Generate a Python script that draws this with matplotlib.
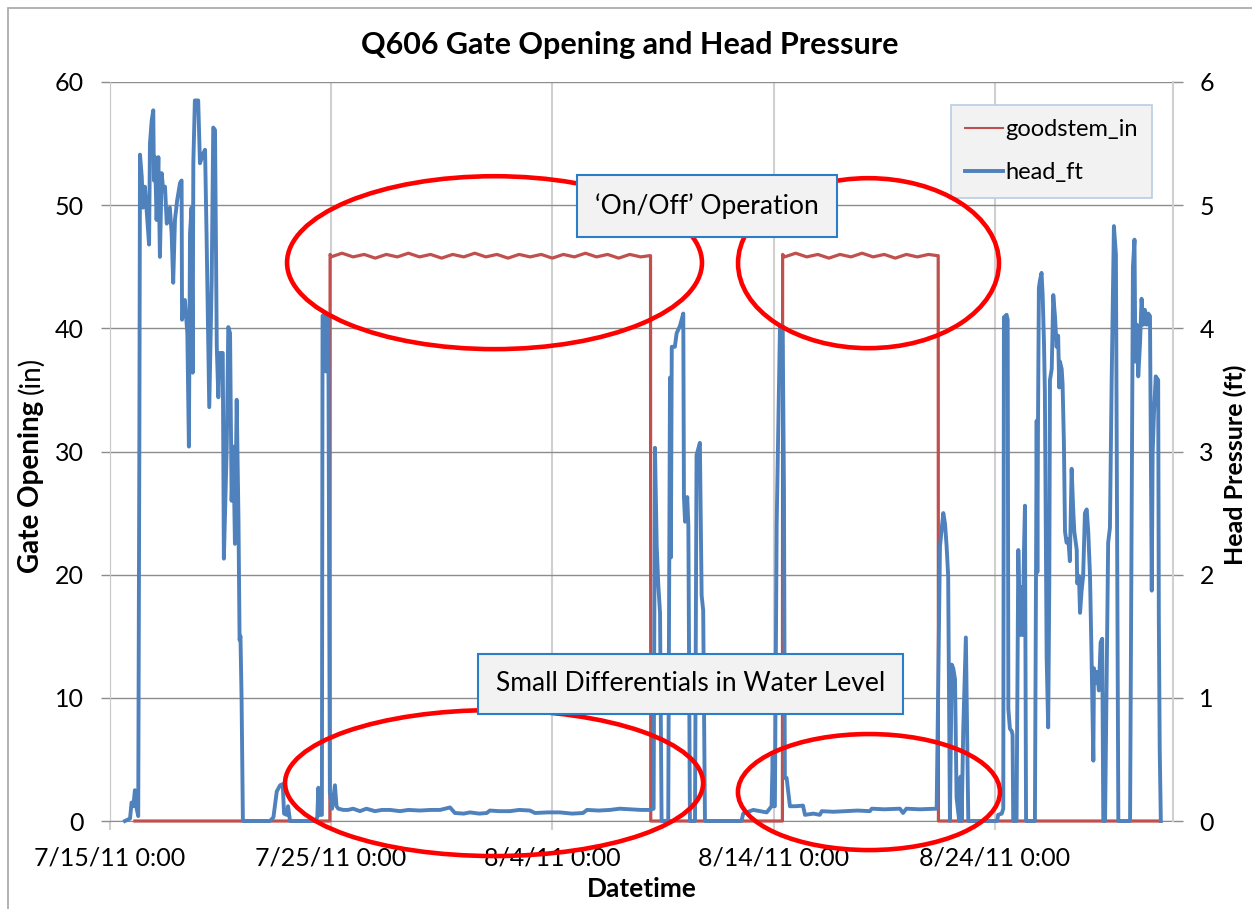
import matplotlib
matplotlib.use('Agg')
import matplotlib.pyplot as plt
import matplotlib.dates as mdates
from matplotlib.patches import Ellipse, Rectangle
from matplotlib.lines import Line2D
from matplotlib.ticker import FuncFormatter
import numpy as np
import pandas as pd

plt.rcParams['font.family'] = ['Lato', 'DejaVu Sans']

START = pd.Timestamp('2011-07-15')
SPAN_DAYS = 48.05

# gate opening (in), days after 7/15/11 0:00
gate_day = [1.14, 9.95, 9.96, 10.0, 10.5, 11.0, 11.5, 12.0, 12.5, 13.0, 13.5, 14.0,
            14.5, 15.0, 15.5, 16.0, 16.5, 17.0, 17.5, 18.0, 18.5, 19.0, 19.5, 20.0,
            20.5, 21.0, 21.5, 22.0, 22.5, 23.0, 23.5, 24.0, 24.4, 24.44, 24.45,
            30.40, 30.41, 30.5, 31.0, 31.5, 32.0, 32.5, 33.0, 33.5, 34.0, 34.5,
            35.0, 35.5, 36.0, 36.5, 37.0, 37.4, 37.44, 37.45, 47.38]
gate_in = [0.0, 0.0, 46.0, 45.8, 46.1, 45.8, 46.0, 45.7, 46.0, 45.8, 46.1, 45.8,
           46.0, 45.7, 46.0, 45.8, 46.1, 45.8, 46.0, 45.7, 46.0, 45.8, 46.0, 45.7,
           46.0, 45.8, 46.1, 45.8, 46.0, 45.7, 46.0, 45.8, 45.9, 45.9, 0.0,
           0.0, 46.0, 45.8, 46.1, 45.8, 46.0, 45.7, 46.0, 45.8, 46.1, 45.8,
           46.0, 45.7, 46.0, 45.8, 46.0, 45.9, 45.9, 0.0, 0.0]

# head pressure (ft), days after 7/15/11 0:00
head_day = [0.69, 0.92, 0.99, 1.07, 1.14, 1.22, 1.29, 1.34, 1.37, 1.45, 1.50, 1.59,
            1.67, 1.78, 1.82, 1.90, 1.97, 2.00, 2.05, 2.12, 2.20, 2.27, 2.35, 2.42,
            2.50, 2.58, 2.72, 2.80, 2.87, 2.95, 3.05, 3.18, 3.25, 3.27, 3.40, 3.51,
            3.58, 3.63, 3.70, 3.75, 3.78, 3.85, 4.00, 4.08, 4.23, 4.31, 4.38, 4.50,
            4.61, 4.68, 4.76, 4.84, 4.91, 4.98, 5.11, 5.16, 5.29, 5.36, 5.44, 5.51,
            5.59, 5.66, 5.74, 5.82, 5.87, 5.91, 5.96, 6.02,
            7.24, 7.40, 7.55, 7.70, 7.82, 7.88, 8.00, 8.06, 8.15, 9.28, 9.38, 9.43,
            9.47, 9.59, 9.62, 9.73, 9.77, 9.82, 9.88, 9.95, 10.05, 10.18, 10.25,
            10.33, 10.56,
            10.77, 11.00, 11.31, 11.60, 11.99, 12.30, 12.67, 13.12, 13.50, 14.02,
            14.50, 14.93, 15.38, 15.60, 16.00, 16.28, 16.70, 17.04, 17.18, 17.60,
            18.09, 18.50, 18.99, 19.22, 19.80, 20.34, 20.90, 21.39, 21.57, 22.10,
            22.61, 23.05, 23.51, 24.00, 24.32, 24.42,
            24.58, 24.64, 24.72, 24.79, 24.87, 24.94, 25.24, 25.32, 25.36, 25.40,
            25.54, 25.62, 25.77, 25.92, 25.95, 26.00, 26.10, 26.15, 26.22, 26.45,
            26.52, 26.67, 26.75, 26.82, 26.90, 28.55, 28.63, 29.08, 29.69, 29.91,
            29.96, 30.01, 30.06, 30.14, 30.29, 30.41, 30.47, 30.51, 30.59, 30.74,
            31.00, 31.33, 31.42, 31.80, 32.09, 32.18, 32.70, 33.22, 33.80, 34.35,
            34.44, 35.00, 35.71, 35.85, 36.00, 36.60, 37.37,
            37.52, 37.67, 37.75, 37.82, 37.89, 37.97, 38.05, 38.12, 38.20, 38.27,
            38.39, 38.45, 38.50, 38.57, 38.69, 38.80, 40.10, 40.15, 40.31, 40.38,
            40.41, 40.53, 40.58, 40.61, 40.68, 40.76, 40.80, 40.83, 40.98, 41.06,
            41.14, 41.18, 41.26, 41.32, 41.36, 41.41, 41.81, 41.89, 41.92, 41.95,
            41.99, 42.04, 42.11, 42.16, 42.22, 42.26, 42.34, 42.41, 42.46, 42.49,
            42.57, 42.64, 42.72, 42.79, 42.86, 42.91, 42.94, 43.02, 43.06, 43.12,
            43.17, 43.24, 43.32, 43.39, 43.47, 43.54, 43.59, 43.70, 43.72, 43.80,
            43.85, 43.92, 43.99, 44.07, 44.15, 44.22, 44.30, 44.37, 44.45, 44.48,
            44.57, 44.63, 44.70, 44.78, 44.85, 44.90, 44.98, 45.12, 45.20, 45.28,
            45.38, 45.47, 45.58, 46.11, 46.24, 46.31, 46.35, 46.41, 46.48, 46.56,
            46.63, 46.71, 46.78, 46.86, 46.93, 47.01, 47.05, 47.09, 47.13, 47.19,
            47.27, 47.38, 47.41, 47.45, 47.50]
head_ft = [0.0, 0.02, 0.15, 0.12, 0.25, 0.10, 0.04, 3.0, 5.41, 5.23, 4.98, 5.15,
           4.96, 4.68, 5.50, 5.69, 5.77, 5.20, 5.39, 4.88, 5.39, 4.58, 5.26, 5.12,
           5.15, 4.85, 4.98, 4.77, 4.37, 4.88, 5.04, 5.18, 5.20, 4.07, 4.23, 3.96,
           3.04, 4.77, 4.98, 3.64, 5.34, 5.85, 5.85, 5.34, 5.42, 5.45, 4.74, 3.36,
           4.39, 5.63, 5.61, 3.85, 3.44, 3.80, 3.80, 2.13, 3.04, 4.01, 3.96, 2.60,
           3.04, 2.25, 3.42, 2.45, 1.47, 1.50, 1.00, 0.0,
           0.0, 0.03, 0.24, 0.29, 0.30, 0.06, 0.05, 0.12, 0.0, 0.0, 0.03, 0.27,
           0.05, 0.05, 4.10, 4.12, 3.65, 4.10, 4.08, 0.23, 0.10, 0.29, 0.12,
           0.10, 0.09,
           0.09, 0.10, 0.08, 0.10, 0.08, 0.09, 0.09, 0.08, 0.09, 0.085,
           0.09, 0.09, 0.11, 0.065, 0.06, 0.07, 0.06, 0.065, 0.085, 0.08,
           0.08, 0.09, 0.085, 0.065, 0.07, 0.07, 0.06, 0.065, 0.09, 0.085,
           0.09, 0.10, 0.095, 0.09, 0.09, 0.09,
           0.10, 3.03, 2.23, 1.92, 1.69, 0.0, 0.0, 3.60, 2.14, 3.85,
           3.85, 3.96, 4.02, 4.12, 2.63, 2.43, 2.63, 2.40, 0.0, 0.0,
           2.97, 3.07, 1.83, 1.71, 0.0, 0.0, 0.06, 0.09, 0.07, 0.12,
           0.52, 0.12, 0.12, 2.40, 4.02, 4.02, 2.69, 0.35, 0.35, 0.12,
           0.12, 0.125, 0.05, 0.06, 0.05, 0.08, 0.075, 0.08, 0.085, 0.08,
           0.10, 0.095, 0.10, 0.065, 0.10, 0.095, 0.10,
           2.23, 2.50, 2.41, 2.23, 1.99, 0.0, 1.27, 1.24, 1.15, 0.19,
           0.0, 0.36, 0.0, 0.73, 1.49, 0.0, 0.0, 0.05, 0.06, 0.10,
           4.09, 4.11, 4.07, 0.91, 0.75, 0.73, 0.70, 0.0, 0.0, 2.20,
           1.51, 1.90, 1.51, 2.23, 2.56, 0.0, 0.0, 3.25, 2.02, 3.25,
           4.33, 4.39, 4.45, 4.27, 3.88, 3.49, 1.33, 0.76, 1.93, 3.58,
           3.67, 4.27, 4.09, 3.85, 3.94, 3.52, 3.73, 3.67, 3.55, 3.07,
           2.35, 2.26, 2.29, 2.11, 2.86, 2.53, 2.35, 2.20, 1.93, 1.99,
           1.69, 1.87, 1.99, 2.50, 2.53, 2.35, 1.99, 1.33, 0.49, 1.24,
           1.12, 1.21, 1.06, 1.45, 1.48, 0.0, 0.0, 2.26, 2.38, 3.60,
           4.83, 4.60, 0.0, 0.0, 4.50, 4.72, 3.73, 4.03, 3.61, 3.88,
           4.24, 4.03, 4.15, 4.03, 4.12, 4.10, 2.98, 1.87, 2.98, 3.31,
           3.61, 3.58, 1.63, 0.58, 0.0]

left_ticks = [0, 10, 20, 30, 40, 50, 60]
right_ticks = [0, 1, 2, 3, 4, 5, 6]
xtick_day = [0, 10, 20, 30, 40]

# red ellipses: centre day, centre ft, width days, height ft
ellipses = [(17.39, 4.533, 18.75, 1.404),
            (34.29, 4.529, 11.79, 1.380),
            (17.37, 0.308, 18.89, 1.185),
            (34.31, 0.235, 11.84, 0.942)]
callouts = [("\u2018On/Off\u2019 Operation", 0.5617, 0.832),
            ("Small Differentials in Water Level", 0.5459, 0.1854)]

RED = '#c0504d'
BLUE = '#4f81bd'
W, H = 1252, 909


def to_dates(days):
    return START + pd.to_timedelta(np.asarray(days), unit='D')


def fmt_date(x, pos):
    d = mdates.num2date(x)
    return f'{d.month}/{d.day}/{d:%y} {d.hour}:{d:%M}'


def vertical_label(fig, x_px, yc_px, parts, size):
    # rotated label made of pieces with their own weight, centred on yc_px
    renderer = fig.canvas.get_renderer()
    texts, lengths = [], []
    for s, weight in parts:
        t = fig.text(0, 0, s, rotation=90, rotation_mode='anchor', ha='left',
                     va='center', fontsize=size, fontweight=weight)
        texts.append(t)
        lengths.append(t.get_window_extent(renderer).height)
    gap = size * 0.3
    total = sum(lengths) + gap * (len(parts) - 1)
    y = (H - yc_px) - total / 2
    for t, ln in zip(texts, lengths):
        t.set_position((x_px / W, y / H))
        y += ln + gap


fig = plt.figure(figsize=(12.52, 9.09), dpi=100)
ax = fig.add_axes([0.0876, 0.0968, 0.8493, 0.8130])
ax2 = ax.twinx()

ax.plot(to_dates(gate_day), gate_in, color=RED, lw=2.3, clip_on=False, zorder=3)
ax2.plot(to_dates(head_day), head_ft, color=BLUE, lw=2.8, clip_on=False, zorder=3)

ax.set_xlim(START, START + pd.Timedelta(days=SPAN_DAYS))
ax.set_ylim(0, 60)
ax2.set_ylim(0, 6)
ax.set_yticks(left_ticks)
ax2.set_yticks(right_ticks)
ax.set_xticks(to_dates(xtick_day))
ax.xaxis.set_major_formatter(FuncFormatter(fmt_date))

ax.set_axisbelow(True)
ax.grid(axis='y', color='#8c8c8c', lw=1.0)
ax.grid(axis='x', color='#d0d0d0', lw=1.5)

for a in (ax, ax2):
    a.spines['top'].set_visible(False)
ax.spines['left'].set_color('#c8c8c8')
ax.spines['bottom'].set_color('#8c8c8c')
ax.spines['right'].set_visible(False)
ax2.spines['left'].set_visible(False)
ax2.spines['bottom'].set_visible(False)
ax2.spines['right'].set_color('#d0d0d0')
ax2.spines['right'].set_linewidth(1.5)

ax.tick_params(axis='y', length=6.5, color='#8c8c8c', width=1, pad=12, labelsize=18)
ax.tick_params(axis='x', length=6.5, color='#d0d0d0', width=1.5, pad=12, labelsize=18)
ax2.tick_params(axis='y', length=7, color='#8c8c8c', width=1, pad=12, labelsize=18)

ax.set_xlabel('Datetime', fontsize=19, fontweight='bold', labelpad=5)

vertical_label(fig, 31, 465, [('Gate Opening', 'bold'), ('(in)', 'normal')], 20)
vertical_label(fig, 1235, 465, [('Head Pressure (ft)', 'bold')], 18)

fig.text(630 / W, 1 - 45 / H, 'Q606 Gate Opening and Head Pressure',
         ha='center', va='center', fontsize=22, fontweight='bold')

handles = [Line2D([], [], color=RED, lw=1.5), Line2D([], [], color=BLUE, lw=2.8)]
leg = ax2.legend(handles, ['goodstem_in', 'head_ft'], loc='upper left',
                 bbox_to_anchor=(0.791, 0.969), fontsize=17, frameon=True,
                 fancybox=False, facecolor='#f2f2f2', edgecolor='#b9cde5',
                 framealpha=1, handlelength=1.6, handletextpad=0.1,
                 labelspacing=0.95, borderpad=0.6, borderaxespad=0)
leg.get_frame().set_linewidth(1.2)
leg.set_zorder(6)

for cx, cy, w, h in ellipses:
    e = Ellipse((mdates.date2num(to_dates([cx])[0]), cy), w, h, fill=False,
                edgecolor='#ff0000', lw=3.3, clip_on=False, zorder=7)
    ax2.add_patch(e)

for label, bx, by in callouts:
    ax2.text(bx, by, label, transform=ax2.transAxes, ha='center', va='center',
             fontsize=19, zorder=8,
             bbox=dict(boxstyle='square,pad=0.68', facecolor='#f2f2f2',
                       edgecolor='#2a7ec8', lw=1.5))

fig.patches.append(Rectangle((8 / W, -0.05), 1.1, 1.05 - 8 / H,
                             transform=fig.transFigure, fill=False,
                             edgecolor='#a6a6a6', lw=1.2))

fig.savefig('out.png', dpi=100)
